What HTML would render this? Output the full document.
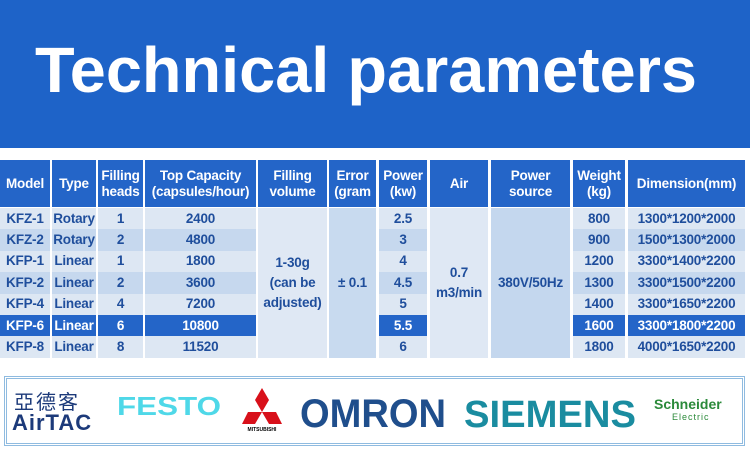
<!DOCTYPE html>
<html><head><style>
body{margin:0;width:750px;height:467px;overflow:hidden;background:#fff;font-family:"Liberation Sans","Noto Sans CJK SC",sans-serif;position:relative}
.c{position:absolute;display:flex;align-items:center;justify-content:center;text-align:center;font-weight:bold;font-size:13.5px;line-height:16px;color:#1f4e9c;box-sizing:border-box;white-space:nowrap;letter-spacing:-0.2px}
.h{background:#2465c8;color:#fff}
.a{background:#dde7f3}.b{background:#c6d8ee}.d{background:#2465c8;color:#fff}
</style></head><body>
<div style="position:absolute;left:0;top:0;width:750px;height:148px;background:#1e63c8"></div>
<svg style="position:absolute;left:0;top:0" width="750" height="148"><text x="35" y="92" textLength="662" lengthAdjust="spacingAndGlyphs" font-family="Liberation Sans" font-weight="bold" font-size="64" fill="#fff">Technical parameters</text></svg>
<div id="t"></div>
<div style="position:absolute;left:4px;top:376px;width:741px;height:70px;border:3px double #8fbbe0;box-sizing:border-box;background:#fff"></div>
<div style="position:absolute;left:14px;top:386px;font-size:20px;color:#1c3a7a;font-family:'Noto Sans CJK TC',sans-serif;letter-spacing:2px">亞德客</div>
<div style="position:absolute;left:12px;top:410px;font-size:22px;font-weight:bold;color:#1c3a7a;font-family:'Liberation Sans';letter-spacing:1px">AirTAC</div>
<svg style="position:absolute;left:115px;top:392px" width="110" height="28"><text x="2" y="23" textLength="104" lengthAdjust="spacingAndGlyphs" font-family="Liberation Sans" font-weight="bold" font-size="26" fill="#4fd8e8">FESTO</text></svg>
<svg style="position:absolute;left:242px;top:386px" width="40" height="46"><polygon points="20,2 27,14 20,26 13,14" fill="#d8101a"/><polygon points="20,26 34,26 40,38 27,38" fill="#d8101a"/><polygon points="6,26 20,26 13,38 0,38" fill="#d8101a"/><text x="20" y="45" font-size="5" text-anchor="middle" font-family="Liberation Sans" font-weight="bold">MITSUBISHI</text></svg>
<svg style="position:absolute;left:295px;top:386px" width="160" height="50"><text x="5" y="41" textLength="146" lengthAdjust="spacingAndGlyphs" font-family="Liberation Sans" font-weight="bold" font-size="40" fill="#1f4e8c">OMRON</text></svg>
<svg style="position:absolute;left:460px;top:386px" width="180" height="50"><text x="4" y="41" textLength="172" lengthAdjust="spacingAndGlyphs" font-family="Liberation Sans" font-weight="bold" font-size="38" fill="#1a8ca0">SIEMENS</text></svg>
<div style="position:absolute;left:654px;top:396px;font-size:14px;font-weight:bold;color:#2b8a3a;font-family:'Liberation Sans'">Schneider</div>
<div style="position:absolute;left:672px;top:412px;font-size:9px;color:#2b8a3a;font-family:'Liberation Sans';letter-spacing:1px">Electric</div>
<script>
const cols=[[0,50],[52,96],[98,143],[145,256],[258,327],[329,376],[379,427],[430,488],[491,570],[573,625],[628,745]];
const hd=["Model","Type","Filling<br>heads","Top Capacity<br>(capsules/hour)","Filling<br>volume","Error<br>(gram","Power<br>(kw)","Air","Power<br>source","Weight<br>(kg)","Dimension(mm)"];
const rows=[["KFZ-1","Rotary","1","2400","2.5","800","1300*1200*2000"],["KFZ-2","Rotary","2","4800","3","900","1500*1300*2000"],["KFP-1","Linear","1","1800","4","1200","3300*1400*2200"],["KFP-2","Linear","2","3600","4.5","1300","3300*1500*2200"],["KFP-4","Linear","4","7200","5","1400","3300*1650*2200"],["KFP-6","Linear","6","10800","5.5","1600","3300*1800*2200"],["KFP-8","Linear","8","11520","6","1800","4000*1650*2200"]];
let h="";const T=160,H=47,R=21.4;
cols.forEach((c,i)=>{h+=`<div class="c h" style="left:${c[0]}px;top:${T}px;width:${c[1]-c[0]}px;height:${H}px">${hd[i]}</div>`});
const dc=[0,1,2,3,6,9,10];
rows.forEach((r,j)=>{const y=T+H+1+j*R;const cl=j==5?"d":(j%2?"b":"a");
dc.forEach((ci,k)=>{const c=cols[ci];h+=`<div class="c ${cl}" style="left:${c[0]}px;top:${y}px;width:${c[1]-c[0]}px;height:${R}px">${r[k]}</div>`})});
const my=T+H+1,mh=7*R;
[[4,"1-30g<br>(can be<br>adjusted)","#dfe8f4"],[5,"± 0.1","#c8daef"],[7,"0.7<br>m3/min","#dfe8f4"],[8,"380V/50Hz","#c4d7ee"]].forEach(m=>{const c=cols[m[0]];h+=`<div class="c" style="left:${c[0]}px;top:${my}px;width:${c[1]-c[0]}px;height:${mh}px;background:${m[2]};line-height:20px">${m[1]}</div>`});
document.getElementById("t").innerHTML=h;
</script>
</body></html>
